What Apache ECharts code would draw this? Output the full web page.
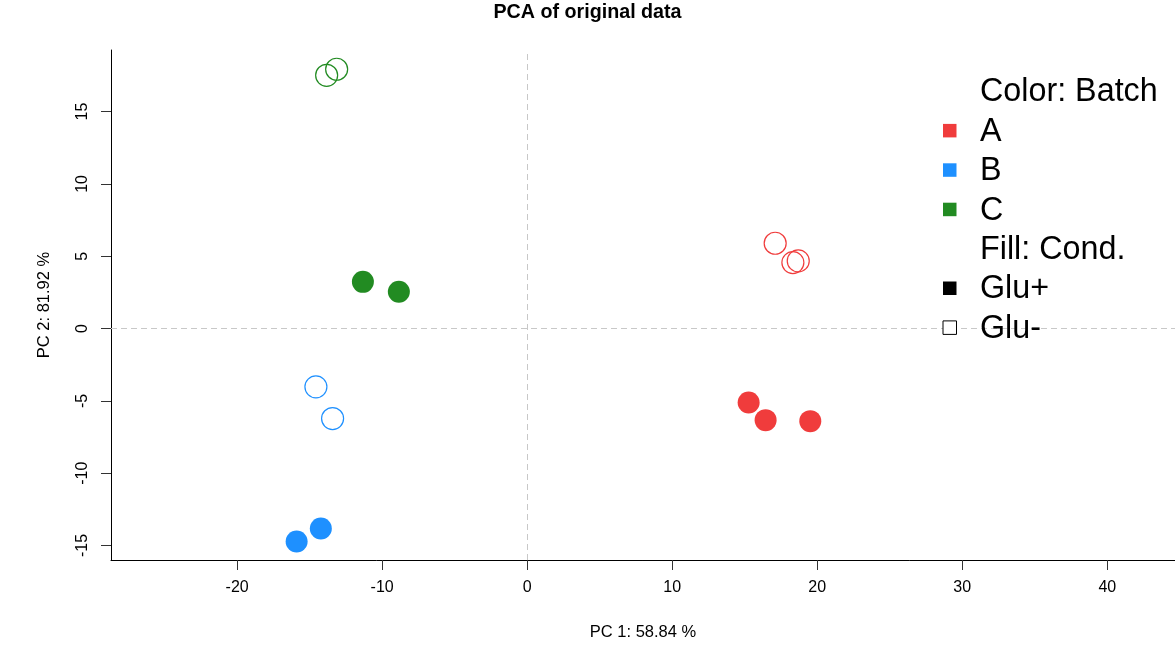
<!DOCTYPE html>
<html>
<head>
<meta charset="utf-8">
<script src="https://cdn.jsdelivr.net/npm/echarts@6/dist/echarts.min.js"></script>
<style>
html,body{margin:0;padding:0;background:#fff;}
#chart{width:1175px;height:658px;}
</style>
</head>
<body>
<div id="chart"></div>
<script>
// ---- data (PC1, PC2) ----
const batchA_gluPlus  = [[15.27,-5.11],[16.44,-6.33],[19.52,-6.40]];
const batchA_gluMinus = [[17.10,5.90],[18.32,4.56],[18.69,4.68]];
const batchB_gluPlus  = [[-15.90,-14.72],[-14.23,-13.82]];
const batchB_gluMinus = [[-14.57,-4.03],[-13.42,-6.22]];
const batchC_gluPlus  = [[-11.33,3.23],[-8.85,2.54]];
const batchC_gluMinus = [[-13.83,17.51],[-13.14,17.93]];

const xTicks = [-20,-10,0,10,20,30,40];
const yTicks = [-15,-10,-5,0,5,10,15];

const batchNames  = ['A','B','C'];
const batchColors = ['#F03C3C','#1E90FF','#228B22'];
const condNames   = ['Glu+','Glu-'];
const legendTitles = ['Color: Batch','Fill: Cond.'];

const titleText = 'PCA of original data';
const xName = 'PC 1: 58.84 %';
const yName = 'PC 2: 81.92 %';

const FONT = '"Liberation Sans", Arial, Helvetica, sans-serif';

const groups = [
  {batch:0, filled:true,  data:batchA_gluPlus},
  {batch:0, filled:false, data:batchA_gluMinus},
  {batch:1, filled:true,  data:batchB_gluPlus},
  {batch:1, filled:false, data:batchB_gluMinus},
  {batch:2, filled:true,  data:batchC_gluPlus},
  {batch:2, filled:false, data:batchC_gluMinus}
];

const series = groups.map((g,i) => ({
  type:'scatter',
  name: batchNames[g.batch] + ' ' + (g.filled ? condNames[0] : condNames[1]),
  data: g.data,
  symbol:'circle',
  symbolSize: 22,
  z: 3,
  itemStyle: g.filled
    ? {color: batchColors[g.batch], opacity:1}
    : {color:'rgba(0,0,0,0)', borderColor: batchColors[g.batch], borderWidth:1.2, opacity:1},
  emphasis:{disabled:true},
  markLine: i === 0 ? {
    silent:true, symbol:['none','none'], animation:false,
    label:{show:false},
    emphasis:{disabled:true},
    lineStyle:{type:[6,4], color:'#c8c8c8', width:1, opacity:1},
    data:[{xAxis:0, lineStyle:{color:'#c8c8c8', type:[6,4]}},{yAxis:0, lineStyle:{color:'#c8c8c8', type:[6,4]}}],
    z:1
  } : undefined
}));

// legend as graphic elements
const legendRows = [
  {text:legendTitles[0], box:null},
  ...batchNames.map((n,i)=>({text:n, box:{fill:batchColors[i], stroke:null}})),
  {text:legendTitles[1], box:null},
  {text:condNames[0], box:{fill:'#000', stroke:null}},
  {text:condNames[1], box:{fill:'#fff', stroke:'#000'}}
];
const legendTop = 91, legendStep = 39.4;
const graphics = [];
legendRows.forEach((r,i)=>{
  const cy = legendTop + i*legendStep;
  graphics.push({
    type:'text', left:980, top:cy-14.5, z:10,
    style:{text:r.text, font:'32.3px ' + FONT, fill:'#000', textVerticalAlign:'top'}
  });
  if (r.box) {
    graphics.push({
      type:'rect', z:10,
      shape:{x:943, y:cy-6.5, width:13.5, height:13.5},
      style: r.box.stroke ? {fill:r.box.fill, stroke:r.box.stroke, lineWidth:1} : {fill:r.box.fill}
    });
  }
});

const chart = echarts.init(document.getElementById('chart'), null, {renderer:'canvas'});
chart.setOption({
  animation:false,
  backgroundColor:'#fff',
  title:{
    text:titleText, left:'center', top:-2,
    textStyle:{fontFamily:FONT, fontWeight:'bold', fontSize:19.7, color:'#000'}
  },
  grid:{left:111, right:0, top:50, bottom:98, containLabel:false},
  xAxis:{
    type:'value', min:-28.7, max:44.67,
    name:xName, nameLocation:'middle', nameGap:64,
    nameTextStyle:{fontFamily:FONT, fontSize:16.5, color:'#000'},
    axisLine:{show:true, onZero:false, lineStyle:{color:'#000', width:1}},
    axisTick:{show:true, length:10, customValues:xTicks, lineStyle:{color:'#333'}},
    axisLabel:{customValues:xTicks, margin:20, fontFamily:FONT, fontSize:16, color:'#000'},
    splitLine:{show:false}
  },
  yAxis:{
    type:'value', min:-16.0, max:19.26,
    name:yName, nameLocation:'middle', nameGap:58, nameRotate:90,
    nameTextStyle:{fontFamily:FONT, fontSize:16.5, color:'#000'},
    axisLine:{show:true, onZero:false, lineStyle:{color:'#000', width:1}},
    axisTick:{show:true, length:10, customValues:yTicks, lineStyle:{color:'#333'}},
    axisLabel:{customValues:yTicks, rotate:90, margin:20, fontFamily:FONT, fontSize:16, color:'#000'},
    splitLine:{show:false}
  },
  graphic: graphics,
  series: series
});
</script>
</body>
</html>
